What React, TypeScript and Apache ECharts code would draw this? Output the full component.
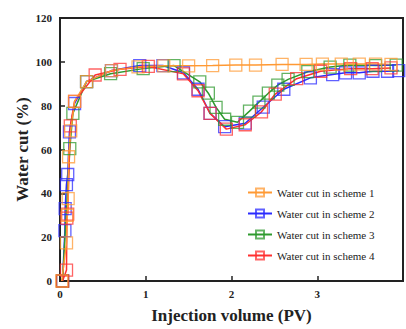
import React, { useEffect, useRef } from "react";
import * as echarts from "echarts";

const seriesNames = [
  "Water cut in scheme 1",
  "Water cut in scheme 2",
  "Water cut in scheme 3",
  "Water cut in scheme 4",
];
const colors = ["#ff9933", "#2b2bff", "#2e9a2e", "#ff3030"];

const scheme1: [number, number][] = [
  [0.02, 0], [0.076, 17.4], [0.085, 30], [0.095, 37.6], [0.1, 56.7], [0.125, 68.5], [0.17, 82],
  [0.31, 91], [0.6, 96], [0.91, 97.7], [1.21, 98.2], [1.5, 98.2], [1.78, 98.3], [2.05, 98.5],
  [2.28, 98.5], [2.59, 98.8], [2.87, 98.8], [3.06, 99], [3.28, 99], [3.49, 99], [3.68, 99], [3.86, 98.8],
];
const scheme2: [number, number][] = [
  [0.03, 0], [0.057, 23], [0.06, 33], [0.075, 44], [0.09, 48.6], [0.11, 68], [0.17, 81],
  [0.31, 91], [0.6, 96], [0.93, 98.3], [1.2, 98.3], [1.44, 95], [1.61, 87.5], [1.75, 76.5],
  [1.92, 70.4], [2.16, 72], [2.37, 79.3], [2.61, 87.5], [2.92, 92.7], [3.18, 94.2], [3.33, 95],
  [3.49, 95], [3.65, 95.7], [3.82, 95.7], [3.95, 96],
];
const scheme3: [number, number][] = [
  [0.03, 0], [0.114, 60.4], [0.15, 76.5], [0.31, 91], [0.59, 94.6], [0.97, 96.9], [1.33, 98.3],
  [1.63, 90.9], [1.73, 85.7], [1.82, 79.2], [1.92, 73.8], [2.07, 72.4], [2.21, 77.5], [2.32, 81.6],
  [2.43, 85.7], [2.54, 89.4], [2.66, 92], [2.89, 95.5], [3.15, 97.6], [3.38, 98.5], [3.68, 98.3], [3.92, 98.5],
];
const scheme4: [number, number][] = [
  [0.03, 0], [0.076, 5], [0.08, 28.7], [0.09, 30.5], [0.12, 70.8], [0.17, 82], [0.41, 94],
  [0.7, 96.6], [1.03, 97.9], [1.44, 94.5], [1.61, 86.8], [1.75, 76.5], [1.94, 69.3], [2.16, 71.3],
  [2.35, 77.2], [2.51, 85.3], [2.76, 92.3], [3.04, 95.7], [3.39, 96.9], [3.64, 96.9], [3.86, 97.2],
];

const yTicks = [0, 20, 40, 60, 80, 100, 120];

export default function App() {
  const ref = useRef<HTMLDivElement>(null);
  useEffect(() => {
    document.body.style.margin = "0";
    const chart = echarts.init(ref.current!, null, { renderer: "svg" });
    const font = "'Liberation Serif', 'Times New Roman', serif";
    const mk = (idx: number, data: [number, number][]) => ({
      name: seriesNames[idx],
      type: "line",
      data,
      symbol: "rect",
      symbolSize: 12,
      lineStyle: { color: colors[idx], width: 1.5 },
      itemStyle: { color: "rgba(255,255,255,0)", borderColor: colors[idx], borderWidth: 1.3, opacity: 0.75 },
      emphasis: { disabled: true },
    });
    chart.setOption({
      animation: false,
      backgroundColor: "#ffffff",
      grid: {
        left: 60, top: 18, right: -5, bottom: 42,
        show: true, borderColor: "#222", borderWidth: 2,
      },
      legend: {
        data: seriesNames,
        orient: "vertical",
        left: 242,
        top: 182,
        itemGap: 10,
        itemWidth: 24,
        itemHeight: 10,
        textStyle: { fontFamily: font, fontSize: 11, color: "#222" },
      },
      xAxis: {
        type: "value",
        min: 0,
        max: 4,
        interval: 1,
        name: "Injection volume (PV)",
        nameLocation: "middle",
        nameGap: 26,
        nameMoveOverlap: false,
        nameTextStyle: { fontFamily: font, fontSize: 17, fontWeight: "bold", color: "#222", verticalAlign: "top" },
        axisLine: { lineStyle: { color: "#222", width: 2 } },
        axisTick: { inside: true, length: 5, lineStyle: { color: "#222", width: 1.5 } },
        axisLabel: {
          fontFamily: font, fontSize: 11, fontWeight: "bold", color: "#222", margin: 7,
          formatter: (v: number) => (v >= 4 ? "" : String(v)),
        },
        splitLine: { show: false },
      },
      yAxis: {
        type: "value",
        min: 0,
        max: 120,
        interval: 20,
        name: "Water cut (%)",
        nameLocation: "middle",
        nameGap: 29,
        nameMoveOverlap: false,
        nameTextStyle: { fontFamily: font, fontSize: 17, fontWeight: "bold", color: "#222" },
        axisLine: { show: true, lineStyle: { color: "#222", width: 2 } },
        axisTick: { show: true, inside: true, length: 5, lineStyle: { color: "#222", width: 1.5 } },
        axisLabel: {
          fontFamily: font, fontSize: 11, fontWeight: "bold", color: "#222", margin: 8,
          formatter: (v: number) => (yTicks.includes(v) ? String(v) : ""),
        },
        splitLine: { show: false },
      },
      series: [mk(1, scheme2), mk(2, scheme3), mk(3, scheme4), mk(0, scheme1)],
    });
    return () => chart.dispose();
  }, []);
  return <div ref={ref} style={{ width: 406, height: 329 }} />;
}
